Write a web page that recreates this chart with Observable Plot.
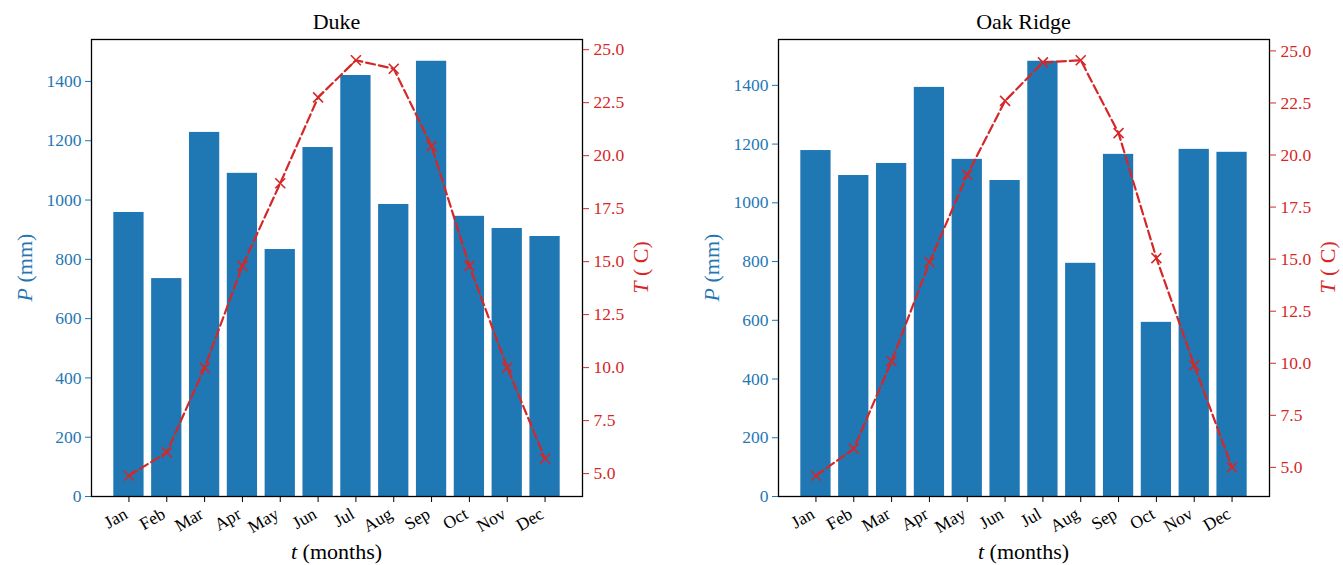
<!DOCTYPE html>
<html>
<head>
<meta charset="utf-8">
<script src="https://cdn.jsdelivr.net/npm/d3@7"></script>
<script src="https://cdn.jsdelivr.net/npm/@observablehq/plot@0.6"></script>
<style>
  body { margin: 0; background: #fff; }
  #fig { position: relative; width: 1343px; height: 565px; background: #fff; }
  #fig svg { position: absolute; left: 0; top: 0; }
  .precip g[aria-label^="y-axis"] text { fill: #1f77b4; }
  .precip g[aria-label^="y-axis"] path,
  .precip g[aria-label^="y-axis"] line { stroke: #1f77b4; }
  .precip g[aria-label^="x-axis"] text { fill: #000; }
  .precip g[aria-label^="x-axis"] path,
  .precip g[aria-label^="x-axis"] line { stroke: #000; }
  .temp g[aria-label^="y-axis"] text { fill: #d62728; }
  .temp g[aria-label^="y-axis"] path,
  .temp g[aria-label^="y-axis"] line { stroke: #d62728; }
</style>
</head>
<body>
<div id="fig"></div>
<script>
// Monthly precipitation (mm) and mean temperature (°C) at two stations
const months = ["Jan", "Feb", "Mar", "Apr", "May", "Jun", "Jul", "Aug", "Sep", "Oct", "Nov", "Dec"];
const stations = ["Duke", "Oak Ridge"];
const dukePrecip = [958, 735, 1228, 1090, 833, 1177, 1420, 985, 1468, 945, 904, 877];
const dukeTemp = [4.9, 6.0, 10.0, 14.8, 18.7, 22.75, 24.5, 24.1, 20.45, 14.8, 10.0, 5.7];
const oakPrecip = [1178, 1093, 1134, 1393, 1148, 1076, 1482, 794, 1165, 593, 1182, 1172];
const oakTemp = [4.6, 5.9, 10.1, 14.85, 19.05, 22.6, 24.45, 24.55, 21.05, 15.05, 9.9, 5.0];
const precipTicks = [0, 200, 400, 600, 800, 1000, 1200, 1400];
const tempTicks = [5, 7.5, 10, 12.5, 15, 17.5, 20, 22.5, 25];

const W = 1343, H = 565;
const frameTop = 39, frameBottom = 496;
const BLUE = "#1f77b4", RED = "#d62728";
const FONT = "'Liberation Serif', 'DejaVu Serif', serif";

// Autoscale with 5% margin on each side
function padded(values) {
  const [lo, hi] = d3.extent(values);
  const m = (hi - lo) * 0.05;
  return [lo - m, hi + m];
}

const fig = document.getElementById("fig");

function panel(precip, temp, left, right) {
  const rows = months.map((m, i) => ({month: m, precip: precip[i], temp: temp[i]}));
  const common = {
    width: W, height: H,
    marginTop: frameTop, marginBottom: H - frameBottom,
    marginLeft: left, marginRight: W - right,
    style: {fontFamily: FONT, fontSize: "17.5px", fontWeight: "400", background: "transparent", overflow: "visible"}
  };

  const bars = Plot.plot({
    ...common,
    x: {type: "band", domain: months, paddingInner: 0.2, paddingOuter: 0.59, align: 0.5, round: false,
        tickSize: 6, tickPadding: 6, tickRotate: -30, label: null},
    y: {domain: [0, d3.max(precip) * 1.05], ticks: precipTicks, tickFormat: d => String(d),
        tickSize: 6, tickPadding: 4, label: null},
    marks: [
      Plot.barY(rows, {x: "month", y: "precip", fill: BLUE}),
      Plot.frame({stroke: "#000", strokeWidth: 1.3})
    ]
  });
  bars.classList.add("precip");
  // Hang the rotated month labels from their top-right corner
  bars.querySelectorAll('g[aria-label^="x-axis"] text').forEach(t => {
    const tr = t.getAttribute("transform") || "";
    t.setAttribute("transform", `translate(-3,4) ${tr}`);
  });

  const line = Plot.plot({
    ...common,
    x: {type: "point", domain: months, padding: 0.99, align: 0.5, round: false, axis: null},
    y: {axis: "right", domain: padded(temp), ticks: tempTicks, tickFormat: d => d.toFixed(1),
        tickSize: 6, tickPadding: 5, label: null},
    marks: [
      Plot.line(rows, {x: "month", y: "temp", stroke: RED, strokeWidth: 2.2, strokeDasharray: "9,4"}),
      Plot.dot(rows, {x: "month", y: "temp", symbol: "times", r: 4.6, stroke: RED, strokeWidth: 1.6})
    ]
  });
  line.classList.add("temp");

  fig.appendChild(bars);
  fig.appendChild(line);
}

const frames = [[91, 582], [778, 1269]];
panel(dukePrecip, dukeTemp, frames[0][0], frames[0][1]);
panel(oakPrecip, oakTemp, frames[1][0], frames[1][1]);

// Titles and axis labels
const labels = d3.create("svg")
  .attr("width", W).attr("height", H)
  .style("font-family", FONT)
  .style("font-weight", "400")
  .style("font-size", "22px");

stations.forEach((name, i) => {
  const [l, r] = frames[i];
  const cx = (l + r) / 2, cy = (frameTop + frameBottom) / 2;

  labels.append("text").attr("x", cx).attr("y", 29)
    .attr("text-anchor", "middle").attr("fill", "#000").text(name);

  const xl = labels.append("text").attr("x", cx).attr("y", 559)
    .attr("text-anchor", "middle").attr("fill", "#000");
  xl.append("tspan").attr("font-style", "italic").text("t");
  xl.append("tspan").text(" (months)");

  const yl = labels.append("text")
    .attr("transform", `translate(${l - 59},${cy}) rotate(-90)`)
    .attr("text-anchor", "middle").attr("fill", BLUE);
  yl.append("tspan").attr("font-style", "italic").text("P");
  yl.append("tspan").text(" (mm)");

  const yr = labels.append("text")
    .attr("transform", `translate(${r + 66},${cy}) rotate(-90)`)
    .attr("text-anchor", "middle").attr("fill", RED);
  yr.append("tspan").attr("font-style", "italic").text("T");
  yr.append("tspan").text(" ( C)");
});

fig.appendChild(labels.node());
</script>
</body>
</html>
